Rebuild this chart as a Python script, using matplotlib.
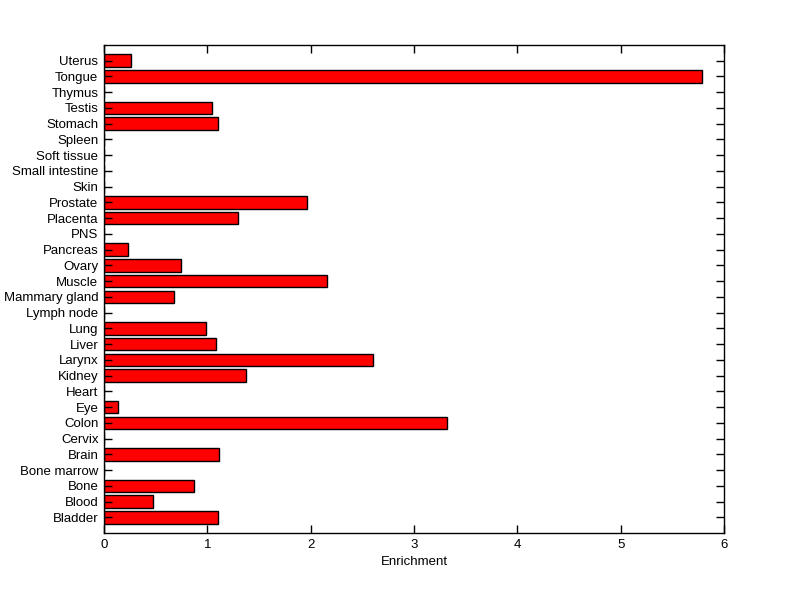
import numpy as np
import matplotlib
matplotlib.use("Agg")
import matplotlib.pyplot as plt

tissues = ["Bladder", "Blood", "Bone", "Bone marrow", "Brain", "Cervix", "Colon",
           "Eye", "Heart", "Kidney", "Larynx", "Liver", "Lung", "Lymph node",
           "Mammary gland", "Muscle", "Ovary", "Pancreas", "PNS", "Placenta",
           "Prostate", "Skin", "Small intestine", "Soft tissue", "Spleen",
           "Stomach", "Testis", "Thymus", "Tongue", "Uterus"]
enrichment = [1.10, 0.476, 0.868, 0, 1.117, 0, 3.32,
              0.136, 0, 1.37, 2.60, 1.087, 0.99, 0,
              0.68, 2.155, 0.748, 0.233, 0, 1.30,
              1.96, 0, 0, 0, 0,
              1.10, 1.049, 0, 5.79, 0.266]

plt.rcParams["font.family"] = ["Liberation Sans", "DejaVu Sans"]

fig = plt.figure(figsize=(8, 5.99), dpi=100)
ax = fig.add_axes([0.13, 0.11, 0.775, 0.815])

pos = np.arange(1, len(tissues) + 1)
ax.barh(pos, enrichment, height=0.8, color="#ff0000", edgecolor="black", linewidth=1)

ax.set_xlim(0, 6)
ax.set_ylim(0, 31)
ax.set_yticks(pos)
ax.set_yticklabels(tissues)
ax.set_xticks(range(7))
ax.set_xlabel("Enrichment", fontsize=9.5, labelpad=4)

ax.tick_params(direction="in", length=6, width=1, top=True, right=True,
               labelsize=9.5, pad=4)
for s in ax.spines.values():
    s.set_linewidth(1)

fig.savefig("out.png", dpi=100)
